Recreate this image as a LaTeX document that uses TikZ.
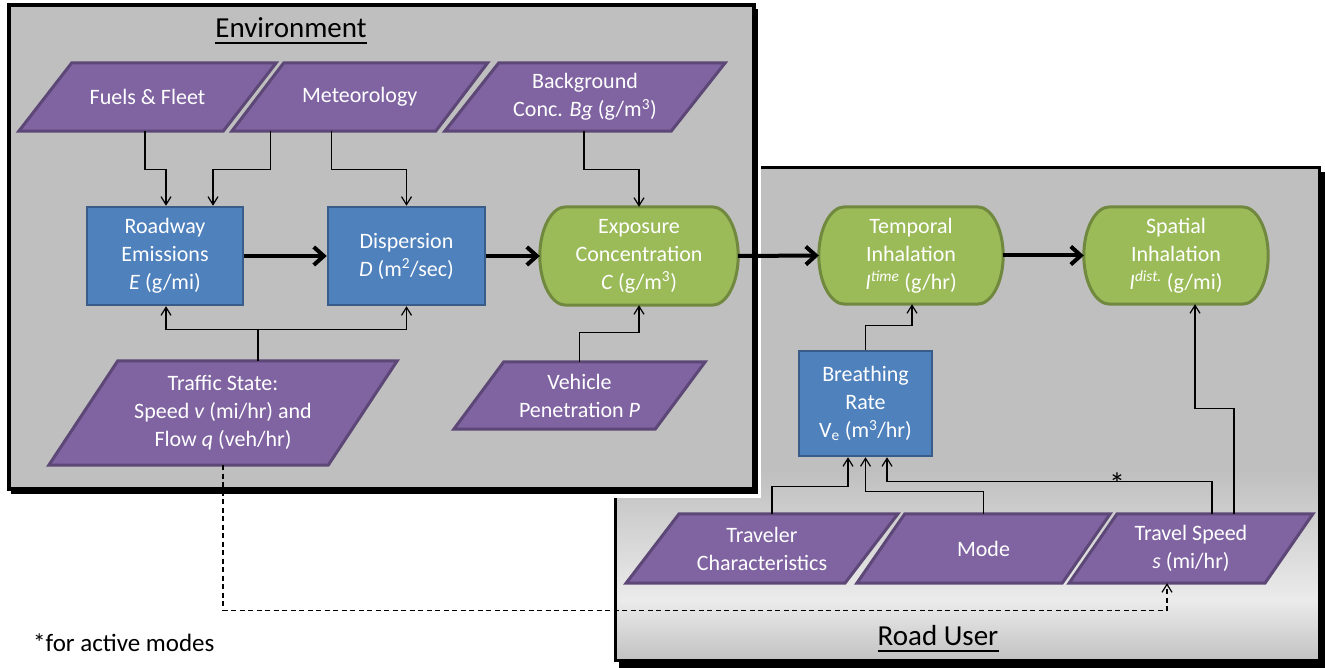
\documentclass[tikz,border=0pt]{standalone}
\usepackage{fontspec}
\setmainfont{Carlito}
\usetikzlibrary{arrows.meta,calc}
\definecolor{pfill}{HTML}{8064A2}
\definecolor{pdraw}{HTML}{5C4776}
\definecolor{bfill}{HTML}{4F81BD}
\definecolor{bdraw}{HTML}{385D8A}
\definecolor{gfill}{HTML}{9BBB59}
\definecolor{gdraw}{HTML}{71893F}
\definecolor{panelgray}{HTML}{BFBFBF}
\definecolor{panellight}{HTML}{EBEBEB}
\definecolor{panelbottom}{HTML}{C2C2C2}
\pgfdeclarelayer{bg}
\pgfdeclarelayer{shp}
\pgfsetlayers{bg,shp,main}
\newcommand{\bodyfont}{\fontsize{22}{28}\selectfont}
\newcommand{\titlefont}{\fontsize{29}{34}\selectfont}
\newcommand{\parashape}[2]{%
  \begin{pgfonlayer}{shp}
  \filldraw[pshape] ($(#1.north west)+(#2,0)$) -- ($(#1.north east)+(#2,0)$) -- ($(#1.south east)+(-#2,0)$) -- ($(#1.south west)+(-#2,0)$) -- cycle;
  \end{pgfonlayer}}
\newcommand{\termshape}[1]{%
  \begin{pgfonlayer}{shp}
  \filldraw[gshape] ($(#1.north west)+(26,0)$) -- ($(#1.north east)+(-26,0)$)
    .. controls ($(#1.north east)+(-11.6,0)$) and ($(#1.east)+(0,-26.8)$) .. (#1.east)
    .. controls ($(#1.east)+(0,26.8)$) and ($(#1.south east)+(-11.6,0)$) .. ($(#1.south east)+(-26,0)$)
    -- ($(#1.south west)+(26,0)$)
    .. controls ($(#1.south west)+(11.6,0)$) and ($(#1.west)+(0,26.8)$) .. (#1.west)
    .. controls ($(#1.west)+(0,-26.8)$) and ($(#1.north west)+(11.6,0)$) .. ($(#1.north west)+(26,0)$) -- cycle;
  \end{pgfonlayer}}
\tikzset{
  lbl/.style={inner sep=0pt, text=white, align=center, font=\bodyfont},
  paranode/.style 2 args={lbl, minimum width=#1, minimum height=#2},
  bluebox/.style 2 args={lbl, minimum width=#1, minimum height=#2, fill=bfill, draw=bdraw, line width=2.5pt},
  pshape/.style={fill=pfill, draw=pdraw, line width=3pt},
  gshape/.style={fill=gfill, draw=gdraw, line width=3pt},
  titlenode/.style={inner sep=0pt, text=black, font=\titlefont},
  arr/.style={line width=1.2pt, -{Straight Barb[length=8pt,width=10pt]}},
  bigarr/.style={line width=4pt, -{Straight Barb[length=10pt,width=18pt]}},
  dasharr/.style={arr, dash pattern=on 5pt off 3.5pt},
}
\begin{document}
\begin{tikzpicture}[x=1pt,y=-1pt]
\useasboundingbox (0,0) rectangle (1325,668);

% ---------- panels ----------
\begin{pgfonlayer}{bg}
  % Road User panel
  \fill[black] (619,172) rectangle (1325,668);
  \fill[panelgray] (615,168) rectangle (1319,660);
  \shade[top color=panelgray, bottom color=panellight] (615,470) rectangle (1319,600);
  \shade[top color=panellight, bottom color=panelbottom] (615,600) rectangle (1319,660);
  \draw[line width=3pt] (615,168) rectangle (1319,660);
  % Environment panel
  \fill[white] (3,0) rectangle (761,498);
  \fill[black] (11,9) rectangle (758,494);
  \fill[panelgray] (9,5) rectangle (754,489);
  \draw[line width=3.5pt] (9,5) rectangle (754,489);
\end{pgfonlayer}

% ---------- titles ----------
\node[titlenode] (envt) at (291,28) {Environment};
\draw[line width=2.5pt] ($(envt.base west)+(0,5)$) -- ($(envt.base east)+(0,5)$);
\node[titlenode] (usert) at (938,636) {Road User};
\draw[line width=2.5pt] ($(usert.base west)+(0,5)$) -- ($(usert.base east)+(0,5)$);
\node[inner sep=0pt, anchor=west, font=\fontsize{25}{28}\selectfont] (foot) at (33,643) {*for active modes};

% ---------- input parallelograms ----------
\node[paranode={204pt}{68pt}] (fuels) at (147.5,97) {Fuels \& Fleet};
\parashape{fuels}{26.5}
\node[paranode={203.5pt}{68pt}] (met) at (359.75,97) {Meteorology};
\parashape{met}{26}
\node[paranode={226pt}{68pt}] (bgc) at (585,97) {Background\\Conc. \textit{Bg} (g/m\textsuperscript{3})};
\parashape{bgc}{27}
\node[paranode={279pt}{104pt}] (traffic) at (223,413) {Traffic State:\\Speed \textit{v} (mi/hr) and\\Flow \textit{q} (veh/hr)};
\parashape{traffic}{34.5}
\node[paranode={201pt}{67pt}] (veh) at (579.5,395.5) {Vehicle\\Penetration \textit{P}};
\parashape{veh}{25}
\node[paranode={218.5pt}{69pt}] (trav) at (762,548.5) {Traveler\\Characteristics};
\parashape{trav}{26.5}
\node[paranode={205pt}{69pt}] (mode) at (983.5,548.5) {Mode};
\parashape{mode}{24}
\node[paranode={195.5pt}{69pt}] (speed) at (1191,548.5) {Travel Speed\\\textit{s} (mi/hr)};
\parashape{speed}{24}

% ---------- process boxes ----------
\node[bluebox={156pt}{98pt}] (road) at (165,256) {Roadway\\Emissions\\\textit{E} (g/mi)};
\node[bluebox={157pt}{98pt}] (disp) at (406.5,256) {Dispersion\\\textit{D} (m\textsuperscript{2}/sec)};
\node[bluebox={133pt}{105pt}] (breath) at (865.5,403.5) {Breathing\\Rate\\V\textsubscript{e} (m\textsuperscript{3}/hr)};

% ---------- outputs ----------
\node[paranode={198pt}{98pt}] (expo) at (639,256) {Exposure\\Concentration\\\textit{C} (g/m\textsuperscript{3})};
\termshape{expo}
\node[paranode={184pt}{97pt}] (temp) at (911,255.5) {Temporal\\Inhalation\\\textit{I\textsuperscript{time}} (g/hr)};
\termshape{temp}
\node[paranode={184pt}{97pt}] (spat) at (1176,255.5) {Spatial\\Inhalation\\\textit{I\textsuperscript{dist.}} (g/mi)};
\termshape{spat}

% ---------- thick flow ----------
\draw[bigarr] (road.east) -- (disp.west);
\draw[bigarr] (disp.east) -- (expo.west);
\draw[bigarr] (expo.east) -- (temp.west);
\draw[bigarr] (temp.east) -- (spat.west);

% ---------- thin connectors ----------
\draw[arr] ($(fuels.south)+(-2.5,0)$) -- ++(0,38) -| ($(road.north)+(1,0)$);
\draw[arr] ($(met.south)+(-89,0)$) -- ++(0,38) -| ($(road.north)+(48,0)$);
\draw[arr] ($(met.south)+(-28,0)$) -- ++(0,38) -| (disp.north);
\draw[arr] ($(bgc.south)+(-1,0)$) -- ++(0,38) -| (expo.north);
\draw[arr] ($(traffic.north)+(35,0)$) -- ++(0,-31) -| ($(road.south)+(1,0)$);
\draw[arr] ($(traffic.north)+(35,0)$) -- ++(0,-31) -| (disp.south);
\draw[arr] (veh.north) -- ++(0,-29) -| (expo.south);
\draw[arr] (breath.north) -- ++(0,-24) -| ($(temp.south)+(1,0)$);
\draw[arr] ($(trav.north)+(10,0)$) -- ++(0,-27) -| ($(breath.south)+(-17.5,0)$);
\draw[arr] (mode.north) -- ++(0,-22) -| (breath.south);
\draw[arr] ($(speed.north)+(21,0)$) -- ++(0,-32) -| ($(breath.south)+(21.5,0)$);
\node[inner sep=0pt, font=\fontsize{32}{34}\selectfont] (star) at (1117,484) {*};
\draw[arr] ($(speed.north)+(43,0)$) -- ++(0,-105) -| ($(spat.south)+(19,0)$);
\draw[dasharr] (traffic.south) -- ++(0,145) -| ($(speed.south)+(-24,0)$);
\end{tikzpicture}
\end{document}
